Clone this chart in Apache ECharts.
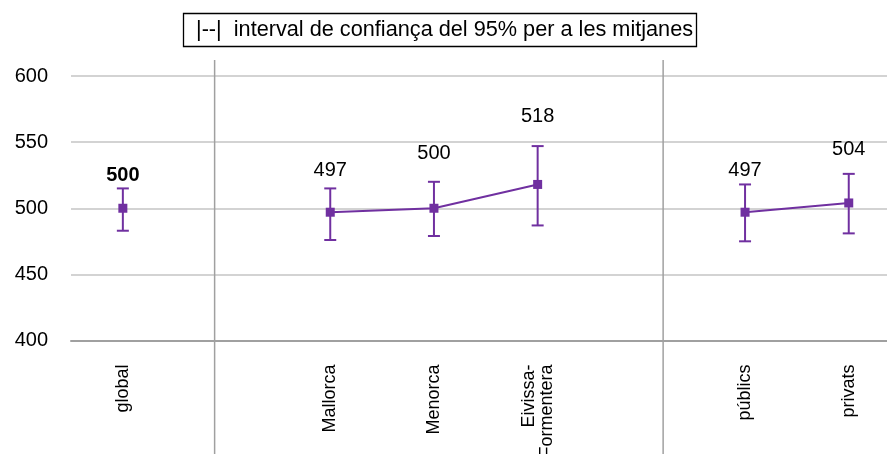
<!DOCTYPE html>
<html>
<head>
<meta charset="utf-8">
<script src="https://cdn.jsdelivr.net/npm/echarts@6/dist/echarts.min.js"></script>
<style>
    html, body { margin: 0; padding: 0; background: #fff; }
    #chart { width: 887px; height: 454px; }
</style>
</head>
<body>
<div id="chart"></div>
<script>
// categories (blank slots keep the group gaps)
const categories = ['global', '', 'Mallorca', 'Menorca', 'Eivissa-\nFormentera', '', 'públics', 'privats'];
const means = [500, null, 497, 500, 518, null, 497, 504];
const shownMeans = [500, null, 497, 500, 518, null, 497, 504];
const ciLow = [483, null, 476, 479, 487, null, 475, 481];
const ciHigh = [515, null, 515, 520, 547, null, 518, 526];
const yTicks = [400, 450, 500, 550, 600];
// where the group separators sit, in category units
const separators = [0.885, 5.21];

// how far each label sits above its upper cap (px)
const labelLift = [13, 0, 18, 28, 30, 0, 14, 24];

const purple = '#7030A0';
const font = '"Liberation Sans", Arial, sans-serif';

var chart = echarts.init(document.getElementById('chart'));

var option = {
    animation: false,
    title: {
        text: '|--|  interval de confiança del 95% per a les mitjanes',
        left: 183,
        top: 13,
        borderColor: '#000',
        borderWidth: 1.3,
        padding: [6, 4, 6, 13],
        textStyle: {
            fontFamily: font,
            fontSize: 21.7,
            fontWeight: 'normal',
            color: '#000'
        }
    },
    grid: {
        left: 71,
        width: 829.6,
        top: 76,
        height: 264.5,
        outerBoundsMode: 'none',
        containLabel: false
    },
    xAxis: [{
        type: 'category',
        data: categories,
        boundaryGap: true,
        axisLine: { show: true, lineStyle: { color: '#a0a0a0', width: 2 } },
        axisTick: { show: false },
        axisLabel: {
            rotate: 90,
            margin: 24,
            interval: 0,
            fontFamily: font,
            fontSize: 18,
            lineHeight: 18,
            color: '#000'
        },
        splitLine: { show: false }
    }, {
        type: 'value',
        min: -0.5,
        max: 7.5,
        show: false
    }],
    yAxis: {
        type: 'value',
        min: yTicks[0],
        max: yTicks[yTicks.length - 1],
        interval: 50,
        axisLine: { show: false },
        axisTick: { show: false },
        axisLabel: {
            margin: 23,
            fontFamily: font,
            fontSize: 20,
            color: '#000'
        },
        splitLine: { lineStyle: { color: '#c4c4c4', width: 1.5 } }
    },
    series: [{
        // group separators
        type: 'custom',
        xAxisIndex: 1,
        clip: false,
        silent: true,
        data: separators.map(s => [s, 400]),
        renderItem: function (params, api) {
            var x = api.coord([api.value(0), 400])[0];
            return {
                type: 'line',
                shape: { x1: x, y1: params.coordSys.y - 16, x2: x, y2: 454 },
                style: { stroke: '#a0a0a0', lineWidth: 1.5 }
            };
        }
    }, {
        // error bars and value labels
        type: 'custom',
        clip: false,
        data: means.map((m, i) => m === null ? [i, null, null, null] : [i, ciLow[i], ciHigh[i], shownMeans[i]]),
        renderItem: function (params, api) {
            var i = params.dataIndex;
            if (means[i] === null) return null;
            var low = api.coord([i, api.value(1)]);
            var high = api.coord([i, api.value(2)]);
            var cap = 6;
            var stroke = { stroke: purple, lineWidth: 2 };
            return {
                type: 'group',
                children: [
                    { type: 'line', shape: { x1: low[0], y1: low[1], x2: high[0], y2: high[1] }, style: stroke },
                    { type: 'line', shape: { x1: low[0] - cap, y1: low[1], x2: low[0] + cap, y2: low[1] }, style: stroke },
                    { type: 'line', shape: { x1: high[0] - cap, y1: high[1], x2: high[0] + cap, y2: high[1] }, style: stroke },
                    {
                        type: 'text',
                        style: {
                            x: high[0],
                            y: high[1] - labelLift[i],
                            text: String(api.value(3)),
                            align: 'center',
                            verticalAlign: 'middle',
                            fontFamily: font,
                            fontSize: 20,
                            fontWeight: i === 0 ? 'bold' : 'normal',
                            fill: '#000'
                        }
                    }
                ]
            };
        }
    }, {
        type: 'line',
        data: means,
        connectNulls: false,
        symbol: 'rect',
        symbolSize: 9,
        itemStyle: { color: purple },
        lineStyle: { color: purple, width: 2 },
        z: 5
    }]
};
chart.setOption(option);
</script>
</body>
</html>
